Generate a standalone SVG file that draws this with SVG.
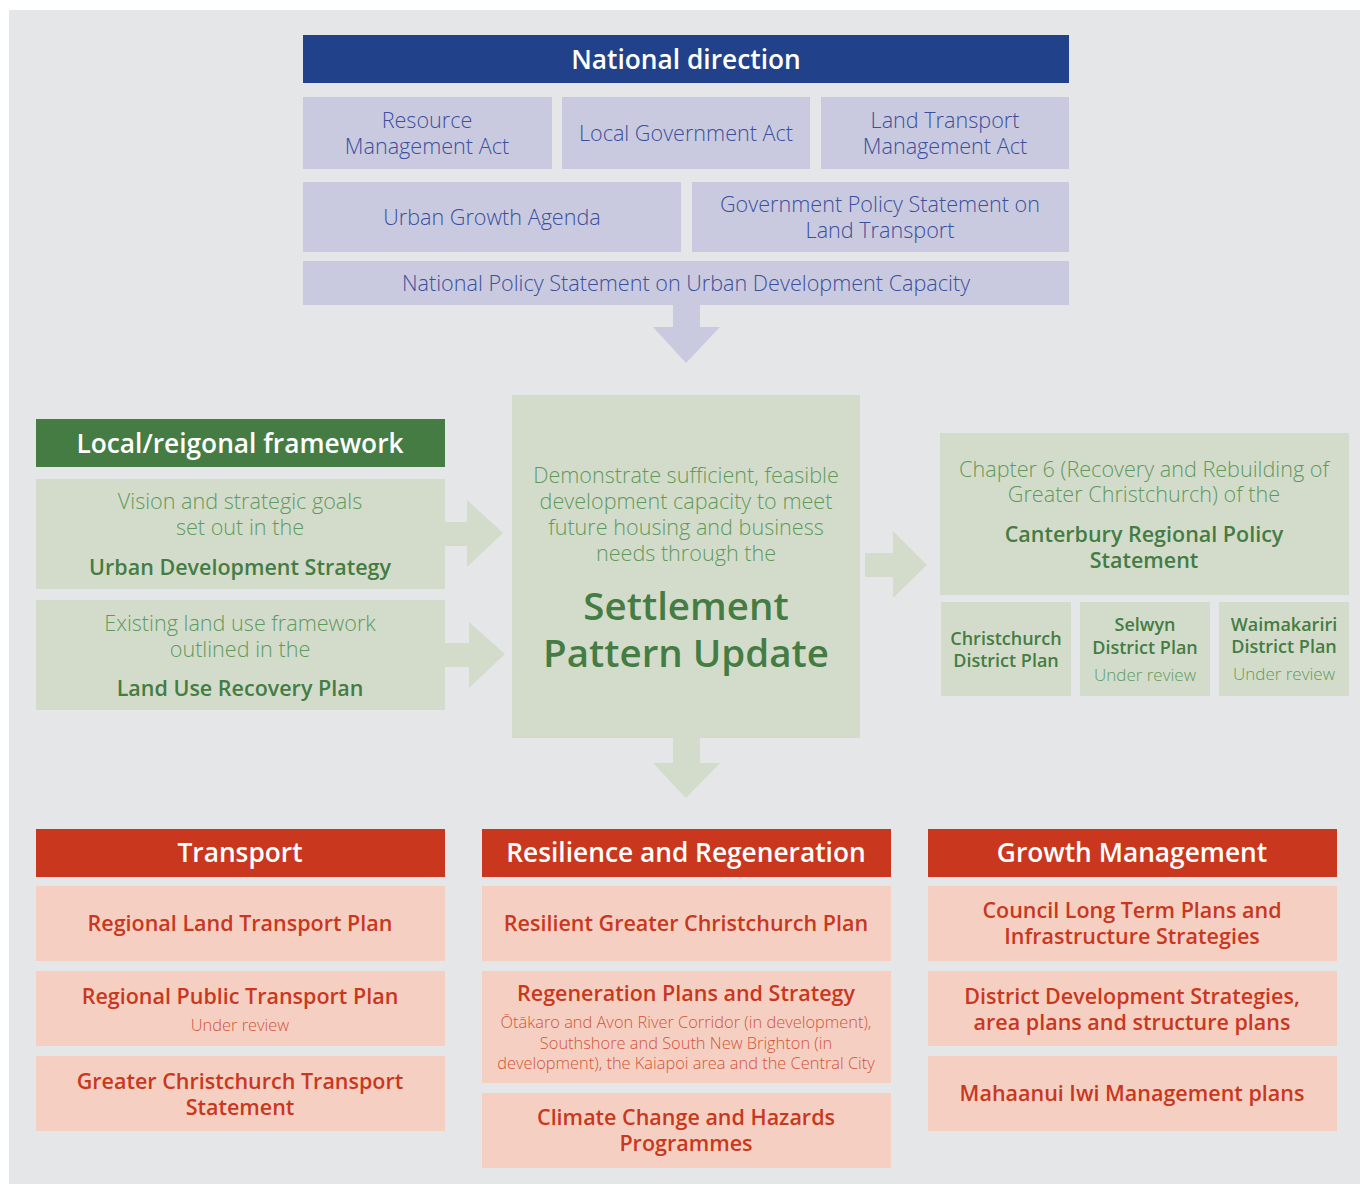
<svg xmlns="http://www.w3.org/2000/svg" width="1360" height="1184" viewBox="0 0 1360 1184">
<style>
text{font-family:"Open Sans","Liberation Sans",sans-serif;text-anchor:middle}
.hd{font-size:26.3px;font-weight:600;fill:#fff}
.bl{font-size:21.6px;font-weight:300;fill:#3b4f9c}
.bx-b{fill:#c9cadf}
.bx-g{fill:#d3dccb}
.bx-r{fill:#f5d0c2}
.gl{font-size:21.6px;font-weight:300;fill:#5f9a5b}
.gb{font-size:21.5px;font-weight:600;fill:#457c43}
.gs{font-size:18px;font-weight:600;fill:#457c43}
.gsl{font-size:17px;font-weight:300;fill:#5f9a5b}
.rb{font-size:21.5px;font-weight:600;fill:#c9381e}
.rs{font-size:16.4px;font-weight:300;fill:#d0553b}
.big{font-size:38.5px;font-weight:600;fill:#457c43}
</style>
<rect x="9" y="10" width="1351" height="1174" fill="#e5e6e8"/>

<g id="connectors">
<polygon points="673,305 700,305 700,327 720,327 686,363 653,327 673,327" fill="#c9cadf"/>
<polygon points="445,522 467,522 467,500 503,533 467,567 467,546 445,546" fill="#d3dccb"/>
<polygon points="445,643 469,643 469,622 505,654 469,688 469,667 445,667" fill="#d3dccb"/>
<polygon points="865,553 893,553 893,531 927,565 893,598 893,577 865,577" fill="#d3dccb"/>
<polygon points="673,738 700,738 700,763 720,763 686,798 653,763 673,763" fill="#d3dccb"/>
</g>

<g id="national-direction">
<rect x="303" y="35" width="766" height="48" fill="#21428a"/>
<text class="hd" x="686" y="69">National direction</text>
</g>
<g id="rma"><rect class="bx-b" x="303" y="97" width="249" height="72"/>
<text class="bl" x="427" y="128">Resource</text><text class="bl" x="427" y="154">Management Act</text></g>
<g id="lga"><rect class="bx-b" x="562" y="97" width="248" height="72"/>
<text class="bl" x="686" y="141">Local Government Act</text></g>
<g id="ltma"><rect class="bx-b" x="821" y="97" width="248" height="72"/>
<text class="bl" x="945" y="128">Land Transport</text><text class="bl" x="945" y="154">Management Act</text></g>
<g id="uga"><rect class="bx-b" x="303" y="182" width="378" height="70"/>
<text class="bl" x="492" y="225">Urban Growth Agenda</text></g>
<g id="gps"><rect class="bx-b" x="692" y="182" width="377" height="70"/>
<text class="bl" x="880" y="212">Government Policy Statement on</text><text class="bl" x="880" y="238">Land Transport</text></g>
<g id="nps"><rect class="bx-b" x="303" y="261" width="766" height="44"/>
<text class="bl" x="686" y="291">National Policy Statement on Urban Development Capacity</text></g>

<g id="local-framework">
<rect x="36" y="419" width="409" height="48" fill="#457c43"/>
<text class="hd" x="240" y="453">Local/reigonal framework</text>
</g>
<g id="uds"><rect class="bx-g" x="36" y="479" width="409" height="110"/>
<text class="gl" x="240" y="509">Vision and strategic goals</text><text class="gl" x="240" y="535">set out in the</text>
<text class="gb" x="240" y="575">Urban Development Strategy</text></g>
<g id="lurp"><rect class="bx-g" x="36" y="600" width="409" height="110"/>
<text class="gl" x="240" y="631">Existing land use framework</text><text class="gl" x="240" y="657">outlined in the</text>
<text class="gb" x="240" y="696">Land Use Recovery Plan</text></g>

<g id="settlement-pattern">
<rect class="bx-g" x="512" y="395" width="348" height="343"/>
<text class="gl" x="686" y="483">Demonstrate sufficient, feasible</text>
<text class="gl" x="686" y="509">development capacity to meet</text>
<text class="gl" x="686" y="535">future housing and business</text>
<text class="gl" x="686" y="561">needs through the</text>
<text class="big" x="686" y="620">Settlement</text>
<text class="big" x="686" y="667">Pattern Update</text>
</g>

<g id="crps"><rect class="bx-g" x="940" y="433" width="409" height="162"/>
<text class="gl" x="1144" y="477">Chapter 6 (Recovery and Rebuilding of</text>
<text class="gl" x="1144" y="502">Greater Christchurch) of the</text>
<text class="gb" x="1144" y="542">Canterbury Regional Policy</text>
<text class="gb" x="1144" y="568">Statement</text></g>
<g id="chch-dp"><rect class="bx-g" x="941" y="602" width="130" height="94"/>
<text class="gs" x="1006" y="645">Christchurch</text><text class="gs" x="1006" y="667">District Plan</text></g>
<g id="selwyn-dp"><rect class="bx-g" x="1080" y="602" width="130" height="94"/>
<text class="gs" x="1145" y="631">Selwyn</text><text class="gs" x="1145" y="654">District Plan</text><text class="gsl" x="1145" y="681">Under review</text></g>
<g id="waimak-dp"><rect class="bx-g" x="1219" y="602" width="130" height="94"/>
<text class="gs" x="1284" y="631">Waimakariri</text><text class="gs" x="1284" y="653">District Plan</text><text class="gsl" x="1284" y="680">Under review</text></g>

<g id="transport"><rect x="36" y="829" width="409" height="48" fill="#c9381e"/>
<text class="hd" x="240" y="862">Transport</text></g>
<g id="rltp"><rect class="bx-r" x="36" y="886" width="409" height="75"/>
<text class="rb" x="240" y="931">Regional Land Transport Plan</text></g>
<g id="rptp"><rect class="bx-r" x="36" y="971" width="409" height="75"/>
<text class="rb" x="240" y="1004">Regional Public Transport Plan</text><text class="rs" x="240" y="1031">Under review</text></g>
<g id="gcts"><rect class="bx-r" x="36" y="1056" width="409" height="75"/>
<text class="rb" x="240" y="1089">Greater Christchurch Transport</text><text class="rb" x="240" y="1115">Statement</text></g>

<g id="resilience"><rect x="482" y="829" width="409" height="48" fill="#c9381e"/>
<text class="hd" x="686" y="862">Resilience and Regeneration</text></g>
<g id="rgcp"><rect class="bx-r" x="482" y="886" width="409" height="75"/>
<text class="rb" x="686" y="931">Resilient Greater Christchurch Plan</text></g>
<g id="regen"><rect class="bx-r" x="482" y="971" width="409" height="112"/>
<text class="rb" x="686" y="1001">Regeneration Plans and Strategy</text>
<text class="rs" x="686" y="1028">Ōtākaro and Avon River Corridor (in development),</text>
<text class="rs" x="686" y="1049">Southshore and South New Brighton (in</text>
<text class="rs" x="686" y="1069">development), the Kaiapoi area and the Central City</text></g>
<g id="climate"><rect class="bx-r" x="482" y="1093" width="409" height="75"/>
<text class="rb" x="686" y="1125">Climate Change and Hazards</text><text class="rb" x="686" y="1151">Programmes</text></g>

<g id="growth"><rect x="928" y="829" width="409" height="48" fill="#c9381e"/>
<text class="hd" x="1132" y="862">Growth Management</text></g>
<g id="ltp"><rect class="bx-r" x="928" y="886" width="409" height="75"/>
<text class="rb" x="1132" y="918">Council Long Term Plans and</text><text class="rb" x="1132" y="944">Infrastructure Strategies</text></g>
<g id="dds"><rect class="bx-r" x="928" y="971" width="409" height="75"/>
<text class="rb" x="1132" y="1004">District Development Strategies,</text><text class="rb" x="1132" y="1030">area plans and structure plans</text></g>
<g id="iwi"><rect class="bx-r" x="928" y="1056" width="409" height="75"/>
<text class="rb" x="1132" y="1101">Mahaanui Iwi Management plans</text></g>
</svg>
